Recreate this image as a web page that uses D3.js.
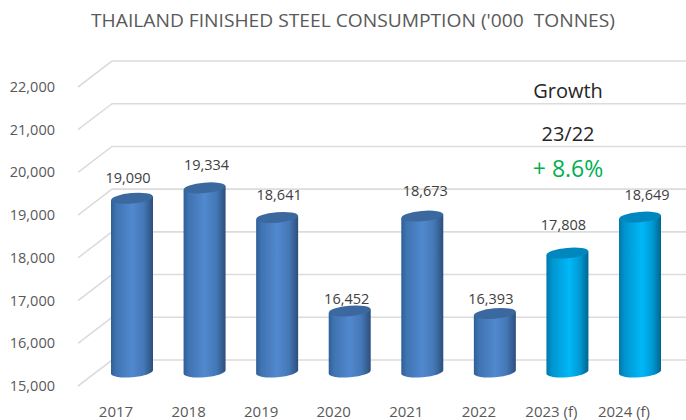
<!DOCTYPE html>
<html><head><meta charset="utf-8">
<script src="https://cdnjs.cloudflare.com/ajax/libs/d3/7.8.5/d3.min.js"></script>
<style>html,body{margin:0;background:#fff}svg{display:block}text{font-family:"Open Sans","Noto Sans",sans-serif}</style>
</head><body><svg id="c" width="686" height="420"></svg>
<script>
const categories=["2017","2018","2019","2020","2021","2022","2023 (f)","2024 (f)"];
const values=[19090,19334,18641,16452,18673,16393,17808,18649];
const forecast=[false,false,false,false,false,false,true,true];
const labelLift=[20,23,22,12,25,14,28,22];
const labelShift=[-4,2,2,-3,3,-4,-4,7];
const tickValues=[15000,16000,17000,18000,19000,20000,21000,22000];
const growthLines=["Growth","23/22","+ 8.6%"];

const svg=d3.select("#c");
const defs=svg.append("defs");
function grad(id,stops){
  const g=defs.append("linearGradient").attr("id",id).attr("x1",0).attr("x2",1).attr("y1",0).attr("y2",0);
  stops.forEach(s=>g.append("stop").attr("offset",s[0]).attr("stop-color",s[1]));
}
grad("blue",[[0,"#2f5f96"],[.12,"#3f73b1"],[.5,"#5189cf"],[.78,"#4478b6"],[1,"#2c4f7c"]]);
grad("cyan",[[0,"#0079ab"],[.14,"#0095cf"],[.55,"#00b8f8"],[.8,"#0098d3"],[1,"#00668f"]]);

const y=d3.scaleLinear().domain([15000,22000]).range([373,74]);
const x=d3.scalePoint().domain(categories).range([132,640]);
const dFront=13;

const grid=svg.append("g");
tickValues.forEach(t=>{
  const yy=y(t);
  grid.append("path").attr("fill","none").attr("stroke","#dcdcdc").attr("stroke-width",1.6)
    .attr("d",`M${x(categories[0])-54},${yy+dFront}L${x(categories[0])-20},${yy-dFront}H686`);
});
svg.append("g").selectAll("text").data(tickValues).join("text")
  .attr("x",55).attr("y",d=>y(d)+13+5).attr("text-anchor","end")
  .attr("font-size",14.5).attr("fill","#595959").text(d3.format(","));

const rx=21, ry=5.2, tilt=-5;
const bars=svg.append("g").selectAll("g").data(values).join("g");
bars.each(function(v,i){
  const g=d3.select(this), cx=x(categories[i]), top=y(v), bot=y(15000)-1;
  const a=tilt*Math.PI/180, dy=rx*Math.sin(a);
  g.append("path").attr("fill",`url(#${forecast[i]?"cyan":"blue"})`)
    .attr("d",`M${cx-rx},${top-dy}L${cx+rx},${top+dy}L${cx+rx},${bot+dy}A${rx},${ry} ${tilt} 0 1 ${cx-rx},${bot-dy}Z`);
  g.append("ellipse").attr("cx",cx).attr("cy",top).attr("rx",rx).attr("ry",ry)
    .attr("transform",`rotate(${tilt} ${cx} ${top})`)
    .attr("fill",forecast[i]?"#0087be":"#3b689f");
  g.append("text").attr("x",cx+labelShift[i]).attr("y",top-labelLift[i]+5)
    .attr("text-anchor","middle").attr("font-size",14.5).attr("fill","#404040").text(d3.format(",")(v));
  g.append("text").attr("x",cx-16).attr("y",417).attr("text-anchor","middle")
    .attr("font-size",15).attr("fill","#595959").text(categories[i]);
});

svg.append("text").attr("x",353).attr("y",27).attr("text-anchor","middle")
  .attr("font-size",18.5).attr("fill","#595959").attr("textLength",524).attr("lengthAdjust","spacingAndGlyphs")
  .text("THAILAND FINISHED STEEL CONSUMPTION ('000\u00A0\u00A0TONNES)");

const growthY=[98,141,177], growthFill=["#262626","#262626","#00b050"], growthSize=[20,20,23];
growthLines.forEach((t,i)=>svg.append("text").attr("x",568).attr("y",growthY[i]).attr("text-anchor","middle")
  .attr("font-size",growthSize[i]).attr("font-weight",i==2?500:400).attr("fill",growthFill[i]).text(t));
</script></body></html>
